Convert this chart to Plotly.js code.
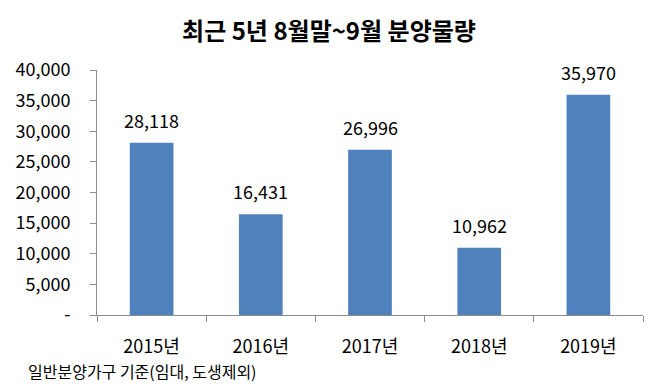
<!DOCTYPE html>
<html>
<head>
<meta charset="utf-8">
<script src="https://cdn.plot.ly/plotly-3.0.1.min.js"></script>
<style>html,body{margin:0;padding:0;background:#fff;}#chart{width:658px;height:389px;}</style>
</head>
<body>
<div id="chart"></div>
<script>
var categories = ["2015년", "2016년", "2017년", "2018년", "2019년"];
var values = [28118, 16431, 26996, 10962, 35970];
var valueLabels = ["28,118", "16,431", "26,996", "10,962", "35,970"];
var yTickVals = [0, 5000, 10000, 15000, 20000, 25000, 30000, 35000, 40000];
var yTickText = ["-", "5,000", "10,000", "15,000", "20,000", "25,000", "30,000", "35,000", "40,000"];
var titleText = "최근 5년 8월말~9월 분양물량";
var noteText = "일반분양가구 기준(임대, 도생제외)";

var font = "'Noto Sans CJK KR', 'Noto Sans', sans-serif";

var annotations = categories.map(function (c, i) {
  return {
    x: c, y: values[i], xref: "x", yref: "y",
    text: valueLabels[i], showarrow: false,
    yanchor: "bottom", yshift: 8,
    font: {family: font, size: 18, color: "#000"}
  };
});
annotations.push({
  xref: "paper", yref: "paper", x: -0.13, y: -0.229,
  xanchor: "left", yanchor: "middle", showarrow: false,
  text: noteText, font: {family: font, size: 16, color: "#000"}
});

var trace = {
  type: "bar", x: categories, y: values,
  marker: {color: "#4F81BD"}, width: 0.4, hoverinfo: "none"
};

var layout = {
  width: 658, height: 389,
  margin: {l: 97, r: 15, t: 70, b: 74},
  paper_bgcolor: "#fff", plot_bgcolor: "#fff",
  showlegend: false,
  title: {text: "<b>" + titleText + "</b>", x: 0.5, xref: "container", xanchor: "center", y: 1 - 32 / 389, yanchor: "middle", yref: "container",
          font: {family: font, size: 24, color: "#000"}},
  xaxis: {
    type: "category", showgrid: false, zeroline: false,
    showline: true, linecolor: "#8c8c8c", linewidth: 1,
    ticks: "outside", tickson: "boundaries", ticklen: 6, tickcolor: "#8c8c8c",
    tickfont: {family: font, size: 18, color: "#000"}, ticklabelstandoff: 15
  },
  yaxis: {
    range: [0, 40000], showgrid: false, zeroline: false,
    showline: true, linecolor: "#8c8c8c", linewidth: 1,
    ticks: "outside", ticklen: 6, tickcolor: "#8c8c8c",
    tickvals: yTickVals, ticktext: yTickText,
    tickfont: {family: font, size: 18, color: "#000"}, ticklabelstandoff: 16
  },
  annotations: annotations
};

Plotly.newPlot("chart", [trace], layout, {staticPlot: true, displayModeBar: false});
</script>
</body>
</html>
